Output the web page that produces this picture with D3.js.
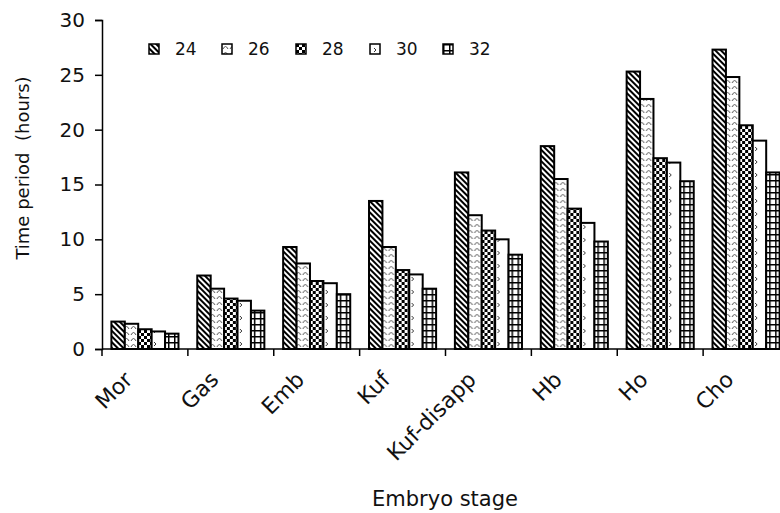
<!DOCTYPE html>
<html>
<head>
<meta charset="utf-8">
<script src="https://cdn.jsdelivr.net/npm/d3@7"></script>
<style>
  body { margin: 0; background: #fff; }
  svg { display: block; font-family: "DejaVu Sans", Verdana, sans-serif; }
</style>
</head>
<body>
<svg id="chart" width="780" height="513"></svg>
<script>
// chart data
var stages = ["Mor", "Gas", "Emb", "Kuf", "Kuf-disapp", "Hb", "Ho", "Cho"];
var temps = ["24", "26", "28", "30", "32"];
var t24 = [2.5, 6.7, 9.3, 13.5, 16.1, 18.5, 25.3, 27.3];
var t26 = [2.3, 5.5, 7.8, 9.3, 12.2, 15.5, 22.8, 24.8];
var t28 = [1.8, 4.6, 6.2, 7.2, 10.8, 12.8, 17.4, 20.4];
var t30 = [1.6, 4.4, 6.0, 6.8, 10.0, 11.5, 17.0, 19.0];
var t32 = [1.4, 3.5, 5.0, 5.5, 8.6, 9.8, 15.3, 16.1];
var yTicks = [0, 5, 10, 15, 20, 25, 30];

var series = [t24, t26, t28, t30, t32];

var svg = d3.select("#chart");
var plotLeft = 102, plotRight = 789, plotTop = 20, plotBottom = 349;

/*
 * fill patterns, one per temperature
 */
function renderPatterns(svg) {
    var defs = svg.append("defs");

    // 24: dense diagonal stripes
    var p = defs.append("pattern").attr("id", "pat24")
        .attr("patternUnits", "userSpaceOnUse")
        .attr("width", 4).attr("height", 4)
        .attr("patternTransform", "rotate(-45)");
    p.append("rect").attr("width", 4).attr("height", 4).attr("fill", "#fff");
    p.append("rect").attr("width", 2).attr("height", 4).attr("fill", "#000");

    // 26: small arcs
    p = defs.append("pattern").attr("id", "pat26")
        .attr("patternUnits", "userSpaceOnUse")
        .attr("width", 7).attr("height", 6);
    p.append("rect").attr("width", 7).attr("height", 6).attr("fill", "#fff");
    p.append("path").attr("d", "M1,5 Q3.5,0 6,5")
        .attr("fill", "none").attr("stroke", "#555").attr("stroke-width", 1);

    // 28: checkerboard
    p = defs.append("pattern").attr("id", "pat28")
        .attr("patternUnits", "userSpaceOnUse")
        .attr("width", 6).attr("height", 6);
    p.append("rect").attr("width", 6).attr("height", 6).attr("fill", "#fff");
    p.append("rect").attr("width", 3).attr("height", 3).attr("fill", "#000");
    p.append("rect").attr("x", 3).attr("y", 3).attr("width", 3).attr("height", 3).attr("fill", "#000");

    // 30: sparse little chevrons
    p = defs.append("pattern").attr("id", "pat30")
        .attr("patternUnits", "userSpaceOnUse")
        .attr("width", 12).attr("height", 13);
    p.append("rect").attr("width", 12).attr("height", 13).attr("fill", "#fff");
    p.append("path").attr("d", "M4,4 L6,6 L4,8")
        .attr("fill", "none").attr("stroke", "#333").attr("stroke-width", 1);

    // 32: square grid
    p = defs.append("pattern").attr("id", "pat32")
        .attr("patternUnits", "userSpaceOnUse")
        .attr("width", 6).attr("height", 6);
    p.append("rect").attr("width", 6).attr("height", 6).attr("fill", "#fff");
    p.append("rect").attr("width", 6).attr("height", 1.5).attr("fill", "#000");
    p.append("rect").attr("width", 1.5).attr("height", 6).attr("fill", "#000");
}

renderPatterns(svg);

var x = d3.scaleBand().domain(stages).range([plotLeft, plotRight]).paddingInner(0).paddingOuter(0);
var xs = d3.scaleBand().domain(temps).range([0, x.bandwidth()]).paddingInner(0).paddingOuter(0.7);
var y = d3.scaleLinear().domain([0, 30]).range([plotBottom, plotTop]);

// bars
var groups = svg.append("g").selectAll("g")
    .data(stages)
    .enter().append("g")
    .attr("transform", function(d) { return "translate(" + x(d) + ",0)"; });

groups.selectAll("rect")
    .data(function(d, i) { return temps.map(function(t, j) { return {t: t, v: series[j][i]}; }); })
    .enter().append("rect")
    .attr("x", function(d) { return xs(d.t); })
    .attr("y", function(d) { return y(d.v); })
    .attr("width", xs.bandwidth())
    .attr("height", function(d) { return plotBottom - y(d.v); })
    .attr("fill", function(d) { return "url(#pat" + d.t + ")"; })
    .attr("stroke", "#000")
    .attr("stroke-width", 2);

// y axis
var yAxis = svg.append("g")
    .attr("transform", "translate(" + plotLeft + ",0)")
    .call(d3.axisLeft(y).tickValues(yTicks).tickSize(7).tickPadding(10));
yAxis.select(".domain").attr("stroke", "#000").attr("stroke-width", 1.5);
yAxis.selectAll(".tick line").attr("stroke-width", 1.5);
yAxis.selectAll("text").attr("font-size", 20).attr("font-family", "DejaVu Sans").attr("fill", "#111");

// x axis line and category boundary ticks
svg.append("line")
    .attr("x1", plotLeft).attr("x2", 780)
    .attr("y1", plotBottom).attr("y2", plotBottom)
    .attr("stroke", "#000").attr("stroke-width", 1.5);

svg.append("g").selectAll("line")
    .data(stages)
    .enter().append("line")
    .attr("x1", function(d) { return x(d); })
    .attr("x2", function(d) { return x(d); })
    .attr("y1", plotBottom).attr("y2", plotBottom + 7)
    .attr("stroke", "#000").attr("stroke-width", 1.5);

svg.append("g").selectAll("text")
    .data(stages)
    .enter().append("text")
    .attr("transform", function(d) {
        return "translate(" + (x(d) + x.bandwidth() / 2 - 11) + "," + 381 + ") rotate(-45)";
    })
    .attr("text-anchor", "end")
    .attr("font-size", 22)
    .attr("fill", "#111")
    .text(function(d) { return d; });

// axis titles
svg.append("text")
    .attr("transform", "translate(29,168) rotate(-90)")
    .attr("text-anchor", "middle")
    .attr("font-size", 18)
    .attr("fill", "#111")
    .attr("xml:space", "preserve")
    .text("Time period  (hours)");

svg.append("text")
    .attr("x", 445).attr("y", 506)
    .attr("text-anchor", "middle")
    .attr("font-size", 21)
    .attr("fill", "#111")
    .text("Embryo stage");

// legend
var legendX = [149, 222, 296, 370, 443];
var legend = svg.append("g").selectAll("g")
    .data(temps)
    .enter().append("g")
    .attr("transform", function(d, i) { return "translate(" + legendX[i] + ",44)"; });

legend.append("rect")
    .attr("width", 10).attr("height", 10)
    .attr("fill", function(d) { return "url(#pat" + d + ")"; })
    .attr("stroke", "#000").attr("stroke-width", 1.5);

legend.append("text")
    .attr("x", 26).attr("y", 11)
    .attr("font-size", 17)
    .attr("fill", "#111")
    .text(function(d) { return d; });
</script>
</body>
</html>
